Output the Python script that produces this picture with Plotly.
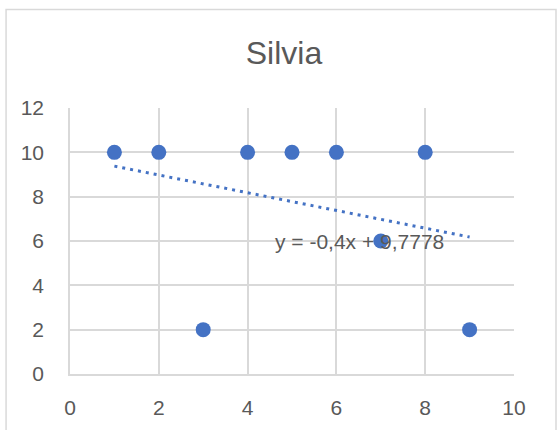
import plotly.graph_objects as go

x_vals = [1, 2, 3, 4, 5, 6, 7, 8, 9]
y_vals = [10, 10, 2, 10, 10, 10, 6, 10, 2]
trend_slope = -0.4
trend_intercept = 9.7778
trend_x = [1, 9]
trend_label = "y = -0,4x + 9,7778"
title_text = "Silvia"
x_ticks = [0, 2, 4, 6, 8, 10]
y_ticks = [0, 2, 4, 6, 8, 10, 12]

trend_y = [trend_slope * v + trend_intercept for v in trend_x]

blue = "#4472C4"
grid = "#D9D9D9"
txt = "#595959"
font = "Liberation Sans, Arial, sans-serif"

fig = go.Figure()
fig.add_trace(go.Scatter(x=trend_x, y=trend_y, mode="lines",
                         line=dict(color=blue, width=3, dash="3px,5px"),
                         hoverinfo="skip", showlegend=False))
fig.add_trace(go.Scatter(x=x_vals, y=y_vals, mode="markers",
                         marker=dict(color=blue, size=15, line=dict(width=0)),
                         showlegend=False))

fig.add_annotation(x=6.53, y=6.0, xref="x", yref="y", text=trend_label,
                   showarrow=False, font=dict(family=font, size=21, color=txt),
                   xanchor="center", yanchor="middle")

fig.add_shape(type="rect", xref="paper", yref="paper",
              x0=-0.144, x1=1.0946, y0=-0.4, y1=1.3707,
              line=dict(color=grid, width=1.5), layer="below")

fig.update_layout(
    width=558, height=430,
    margin=dict(l=70, r=44, t=108, b=56, autoexpand=False),
    paper_bgcolor="white", plot_bgcolor="white",
    title=dict(text=title_text, x=284 / 558, xanchor="center",
               y=1 - 53 / 430, yanchor="middle", yref="container",
               font=dict(family=font, size=32, color=txt)),
    font=dict(family=font, size=21, color=txt),
    xaxis=dict(range=[0, 10], tickvals=x_ticks, showgrid=True, gridcolor=grid,
               gridwidth=1.5, zeroline=False, showline=True, linecolor=grid,
               linewidth=1.5, mirror=False, ticks="outside", ticklen=14,
               tickcolor="rgba(0,0,0,0)", tickfont=dict(family=font, size=21, color=txt)),
    yaxis=dict(range=[0, 12], tickvals=y_ticks, showgrid=True, gridcolor=grid,
               gridwidth=1.5, zeroline=False, showline=True, linecolor=grid,
               linewidth=1.5, ticks="outside", ticklen=20,
               tickcolor="rgba(0,0,0,0)", tickfont=dict(family=font, size=21, color=txt)),
)

fig.write_html("out.html", config={"displayModeBar": False},
               post_script="document.body.style.margin='0';")
